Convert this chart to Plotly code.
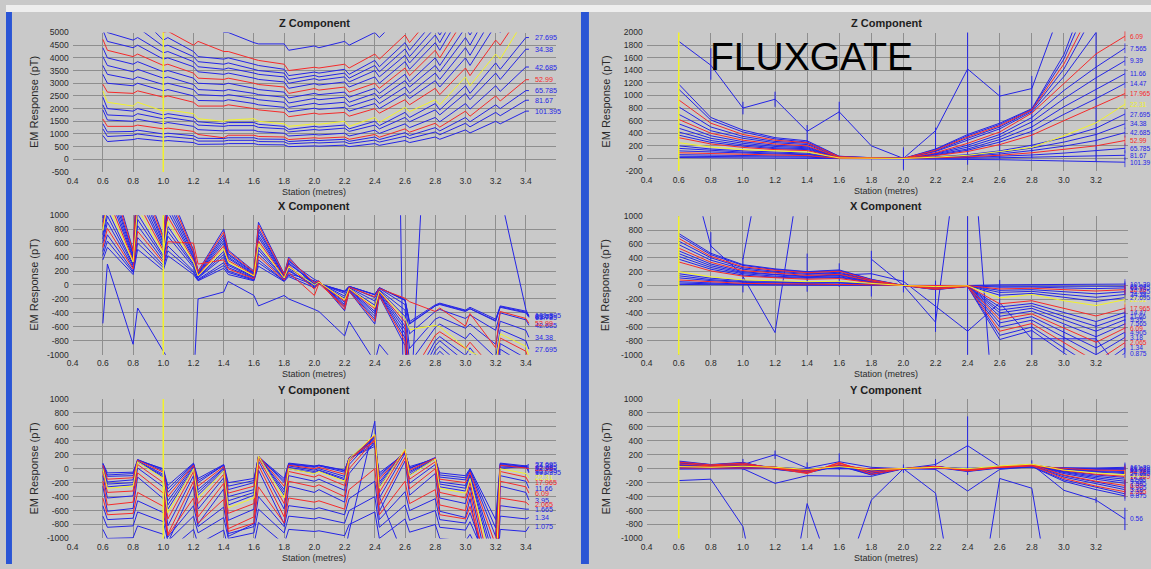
import plotly.graph_objects as go

# ---------------- stations (metres) ----------------
STATIONS_LEFT = [0.60, 0.63, 0.80, 0.83, 1.00, 1.03, 1.20, 1.23, 1.40, 1.43,
                 1.60, 1.63, 1.80, 1.83, 2.00, 2.03, 2.20, 2.23, 2.40, 2.43,
                 2.60, 2.63, 2.80, 2.83, 3.00, 3.03, 3.20, 3.23, 3.40, 3.42]
STATIONS_RIGHT = [0.6, 0.8, 1.0, 1.2, 1.4, 1.6, 1.8, 2.0, 2.2, 2.4, 2.6, 2.8, 3.0, 3.2, 3.38]

# ---------------- coil sensor: Z component ----------------
Z_LEFT_CHANNELS = ["1.665", "2.065", "2.56", "3.18", "3.95", "4.905", "6.09", "7.565", "9.39", "11.66",
                   "14.47", "17.965", "22.31", "27.695", "34.38", "42.685", "52.99", "65.785", "81.67", "101.395"]
Z_LEFT = [
    [9000, 8400, 8000, 8200, 7000, 7100, 6200, 5900, 5000, 5000, 4600, 4550, 4550, 4300, 4470, 4400, 4650, 4500, 5000, 4800, 5800, 5500, 6800, 6500, 8500, 8200, 11000, 10700, 14000, 14000],
    [7800, 7300, 6200, 6300, 5000, 5050, 4500, 4650, 4250, 4250, 3950, 3900, 3750, 3500, 3630, 3600, 3750, 3600, 4150, 3950, 4900, 4600, 5800, 5500, 7200, 6900, 8800, 8500, 10500, 10500],
    [6900, 6300, 5600, 5700, 4700, 4800, 4250, 4050, 3950, 4000, 3750, 3700, 3550, 3300, 3440, 3400, 3550, 3350, 3900, 3650, 4600, 4300, 5500, 5200, 6800, 6500, 8300, 8000, 10000, 10000],
    [6200, 5600, 5100, 5200, 4450, 4500, 4050, 3850, 3750, 3800, 3550, 3500, 3400, 3150, 3310, 3250, 3400, 3200, 3700, 3450, 4350, 4050, 5200, 4900, 6500, 6200, 7900, 7600, 9500, 9500],
    [5500, 5000, 4700, 4800, 4200, 4250, 3850, 3650, 3550, 3600, 3400, 3350, 3250, 3000, 3180, 3120, 3250, 3050, 3500, 3250, 4100, 3800, 4900, 4600, 6400, 6100, 7700, 7400, 9200, 9200],
    [5100, 4650, 4400, 4500, 3950, 4000, 3650, 3450, 3350, 3400, 3200, 3150, 3050, 2800, 2985, 2930, 3050, 2850, 3250, 3000, 3850, 3550, 4600, 4300, 6000, 5700, 7300, 7000, 8800, 8800],
    [4730, 4300, 4050, 4150, 3700, 3750, 3400, 3200, 3150, 3200, 3000, 2950, 2850, 2600, 2790, 2730, 2850, 2650, 3000, 2800, 3600, 3300, 4300, 4000, 5600, 5300, 6900, 6600, 8400, 8400],
    [4400, 4000, 3750, 3850, 3450, 3500, 3200, 3000, 2950, 3000, 2800, 2750, 2650, 2420, 2600, 2550, 2650, 2450, 2800, 2600, 3350, 3050, 4000, 3700, 5200, 4900, 6500, 6200, 8000, 8000],
    [4050, 3700, 3450, 3550, 3200, 3250, 2950, 2750, 2700, 2750, 2600, 2550, 2450, 2220, 2400, 2350, 2450, 2250, 2600, 2400, 3100, 2850, 3700, 3450, 4800, 4500, 6300, 6000, 7600, 7600],
    [3700, 3350, 3150, 3250, 2950, 3000, 2750, 2550, 2500, 2550, 2400, 2350, 2250, 2050, 2210, 2160, 2250, 2080, 2400, 2200, 2850, 2600, 3400, 3150, 4400, 4100, 5800, 5500, 7200, 7200],
    [3350, 3000, 2900, 3000, 2700, 2750, 2500, 2320, 2300, 2350, 2200, 2150, 2050, 1870, 2015, 1970, 2050, 1900, 2200, 2000, 2600, 2400, 3100, 2850, 4000, 3700, 5300, 5000, 6600, 6700],
    [2960, 2650, 2600, 2700, 2450, 2500, 2250, 2100, 2100, 2150, 2000, 1950, 1850, 1680, 1820, 1780, 1850, 1700, 2000, 1820, 2350, 2150, 2800, 2550, 3600, 3300, 4700, 4500, 6000, 6100],
    [2700, 2250, 2100, 2250, 1900, 1950, 1800, 1600, 1500, 1550, 1600, 1500, 1400, 1300, 1400, 1380, 1500, 1300, 1650, 1450, 2050, 1880, 2350, 2150, 3250, 2900, 4150, 3950, 5600, 5700],
    [2450, 2000, 1900, 2000, 1750, 1800, 1650, 1480, 1400, 1450, 1450, 1380, 1300, 1180, 1300, 1270, 1350, 1200, 1500, 1330, 1850, 1650, 2200, 1950, 2900, 2600, 3800, 3550, 4800, 4800],
    [2150, 1750, 1700, 1800, 1600, 1650, 1500, 1350, 1300, 1330, 1330, 1260, 1200, 1080, 1175, 1150, 1230, 1100, 1350, 1200, 1650, 1480, 1950, 1750, 2600, 2350, 3400, 3150, 4340, 4340],
    [1950, 1550, 1500, 1580, 1400, 1450, 1300, 1170, 1120, 1150, 1150, 1090, 1030, 920, 980, 960, 1030, 920, 1150, 1020, 1400, 1250, 1650, 1480, 2200, 1980, 2900, 2680, 3640, 3640],
    [1590, 1300, 1300, 1350, 1200, 1230, 1100, 980, 850, 950, 950, 900, 880, 780, 850, 830, 880, 790, 980, 870, 1200, 1070, 1420, 1270, 1900, 1700, 2500, 2300, 3140, 3140],
    [1400, 1080, 1100, 1150, 1000, 1030, 930, 830, 820, 850, 850, 800, 790, 700, 760, 740, 790, 710, 880, 780, 1050, 940, 1250, 1120, 1650, 1480, 2150, 2000, 2710, 2710],
    [1200, 900, 950, 1000, 870, 900, 810, 720, 720, 750, 750, 700, 690, 610, 660, 645, 690, 620, 760, 680, 910, 820, 1080, 970, 1420, 1280, 1850, 1720, 2330, 2330],
    [940, 700, 780, 820, 720, 740, 660, 590, 600, 620, 620, 580, 570, 500, 530, 520, 560, 500, 620, 550, 740, 660, 880, 790, 1160, 1040, 1500, 1400, 1900, 1900],
]

# ---------------- coil sensor: X component ----------------
X_LEFT_CHANNELS = ["4.905", "6.09", "7.565", "9.39", "11.66", "14.47", "17.965", "22.31",
                   "27.695", "34.38", "42.685", "52.99", "65.785", "81.67", "101.395"]
X_LEFT = [
    [1200, 1800, 500, 1700, 700, 1400, 500, 200, 800, 500, 200, 900, 160, 400, 0, 60, -370, -90, -560, -160, -870, -2170, -1180, -1090, -1490, -1330, -2020, -1240, -1550, -1800],
    [1140, 1710, 480, 1620, 670, 1330, 480, 190, 760, 480, 190, 860, 150, 380, 30, 60, -350, -90, -520, -150, -810, -2030, -1100, -1020, -1390, -1250, -1890, -1160, -1450, -1680],
    [1080, 1620, 450, 1530, 630, 1260, 450, 180, 720, 450, 180, 810, 140, 360, -20, 50, -320, -80, -490, -140, -760, -1890, -1030, -950, -1300, -1160, -1760, -1080, -1350, -1570],
    [1020, 1530, 430, 1450, 600, 1190, 430, 170, 680, 430, 170, 770, 140, 340, 80, 50, -300, -80, -450, -130, -700, -1750, -950, -880, -1200, -1080, -1630, -1000, -1250, -1450],
    [960, 1440, 400, 1360, 560, 1120, 400, 160, 640, 400, 160, 720, 130, 320, 10, 50, -280, -70, -410, -120, -640, -1610, -870, -800, -1100, -990, -1500, -920, -1150, -1330],
    [900, 1350, 380, 1280, 530, 1050, 380, 150, 600, 380, 150, 680, 120, 300, 40, 40, -250, -60, -380, -100, -590, -1470, -800, -740, -1010, -900, -1370, -840, -1050, -1220],
    [840, 1260, 350, 1190, 490, 980, 350, 140, 560, 350, 140, 630, 110, 280, -60, 40, -230, -60, -340, -100, -530, -1330, -720, -670, -910, -820, -1240, -760, -950, -1100],
    [780, 1170, 330, 1100, 460, 910, 330, 130, 520, 330, 130, 590, 100, 260, 0, 40, -210, -50, -320, -90, -480, -640, -580, -600, -900, -950, -1140, -700, -880, -1020],
    [720, 1080, 300, 1020, 420, 840, 300, 120, 480, 300, 120, 540, 100, 240, 20, 30, -190, -50, -290, -80, -450, -1120, -610, -560, -770, -690, -1040, -640, -800, -920],
    [660, 990, 280, 940, 390, 770, 280, 110, 440, 280, 110, 500, 90, 220, -30, 30, -160, -40, -230, -70, -360, -910, -490, -460, -620, -560, -850, -520, -650, -750],
    [600, 900, 250, 850, 350, 700, 250, 100, 400, 250, 100, 450, 80, 200, 0, 20, -120, -30, -180, -50, -280, -700, -380, -350, -480, -430, -650, -400, -500, -580],
    [540, 810, 230, 770, 320, 620, 600, 300, 360, 230, 90, 410, 70, 180, -150, 20, -310, -30, -170, -50, -190, -240, -380, -330, -590, -410, -900, -380, -480, -550],
    [480, 720, 200, 680, 280, 560, 200, 80, 320, 200, 80, 360, 60, 160, 60, 20, -100, -20, -140, -40, -220, -560, -300, -280, -380, -340, -520, -320, -400, -465],
    [420, 630, 180, 600, 250, 490, 180, 70, 280, 180, 70, 320, 60, 140, 0, 20, -90, -20, -140, -40, -220, -550, -300, -270, -370, -340, -510, -310, -390, -450],
    [360, 540, 150, 510, 210, 420, 150, 60, 240, 150, 60, 270, 50, 120, -40, 15, -90, -20, -135, -40, -210, -525, -285, -260, -360, -320, -490, -300, -375, -435],
]
X_LEFT_NOISE_CHANNELS = ["0.56", "0.875"]
X_LEFT_NOISE = [
    [-550, 300, -850, -330, -950, -1050, -1400, -200, -100, 50, -150, -300, -150, -200, -350, -380, -730, -520, -1100, -850, -1300, -1500, -1200, -1200, -1300, -1300, -1300, -1300, -1300, -1300],
    [None, None, None, None, None, None, None, None, None, None, None, None, None, None, None, None, None, None, None,
     20000, -3000, -2000, 5000, 6000, 8000, 8000, 4000, 1300, -350, -450],
]

# ---------------- coil sensor: Y component ----------------
Y_LEFT_CHANNELS = ["101.395", "81.67", "65.785", "52.99", "42.685", "34.38", "27.695", "22.31",
                   "17.965", "11.66", "6.09", "3.95", "2.065", "1.665", "1.34", "1.075"]
Y_LEFT = [
    [80, -60, -50, 120, 0, -240, 80, -140, 60, -200, -140, 170, -140, 80, 40, 50, -20, 150, 320, -60, 220, 30, 140, -60, -100, 0, -730, 80, 40, -60],
    [70, -90, -70, 130, -10, -290, 70, -170, 50, -250, -170, 170, -170, 70, 30, 50, -30, 150, 350, -90, 230, 10, 150, -90, -130, -10, -850, 70, 30, -40],
    [60, -110, -100, 130, -30, -340, 60, -200, 50, -300, -200, 180, -200, 60, 20, 40, -50, 160, 380, -120, 250, 0, 160, -120, -160, -30, -970, 60, 20, -20],
    [50, -150, -130, 120, -50, -400, 50, -250, 30, -350, -250, 180, -250, 50, 0, 20, -80, 150, 400, -150, 250, -20, 150, -150, -200, -50, -1100, 50, 10, 0],
    [40, -190, -160, 110, -80, -460, 40, -300, 10, -400, -300, 180, -300, 40, -20, 0, -110, 150, 420, -190, 260, -40, 150, -190, -240, -80, -1230, 40, 20, 20],
    [20, -220, -200, 100, -100, -520, 20, -340, 0, -460, -340, 180, -340, 20, -40, -20, -140, 140, 440, -220, 260, -60, 140, -220, -280, -100, -1360, 20, 30, 40],
    [0, -260, -230, 100, -120, -580, 0, -380, -20, -520, -380, 170, -380, 0, -60, -30, -160, 140, 460, -260, 260, -90, 140, -260, -320, -120, -1490, 0, 40, 60],
    [0, -280, -250, 100, -140, -630, 0, -420, -30, -560, -420, 180, -420, 0, -70, -40, -180, 140, 490, -280, 280, -100, 140, -280, -350, -140, -1610, 0, -70, -130],
    [-40, -340, -320, 60, -200, -720, -40, -500, -80, -640, -500, 150, -500, -40, -120, -90, -240, 100, 480, -340, 260, -150, 100, -340, -420, -200, -1770, -40, -120, -200],
    [-100, -420, -390, 10, -260, -820, -100, -580, -130, -740, -580, 110, -580, -100, -180, -150, -310, 60, 460, -420, 220, -210, 60, -420, -500, -260, -1940, -100, -180, -280],
    [-180, -520, -480, -60, -350, -940, -180, -690, -210, -860, -690, 50, -690, -180, -260, -230, -400, 0, 420, -520, 160, -290, 0, -520, -600, -340, -2130, -180, -260, -350],
    [-250, -610, -570, -120, -430, -1060, -250, -790, -290, -970, -790, -20, -790, -250, -340, -300, -480, -70, 380, -610, 110, -380, -70, -610, -700, -430, -2320, -250, -340, -450],
    [-420, -660, -640, -340, -540, -960, -420, -780, -440, -900, -780, -260, -780, -420, -480, -460, -580, -300, 0, -660, -180, -500, -300, -660, -720, -540, -1800, -420, -480, -520],
    [-530, -730, -710, -460, -630, -980, -530, -830, -550, -930, -830, -400, -830, -530, -580, -560, -660, -430, -180, -730, -330, -600, -430, -730, -780, -630, -1680, -530, -580, -580],
    [-680, -840, -820, -620, -760, -1040, -680, -920, -700, -1000, -920, -580, -920, -680, -720, -700, -780, -600, -400, -840, -520, -740, -600, -840, -880, -760, -1600, -680, -720, -700],
    [-870, -1000, -990, -820, -940, -1180, -870, -1080, -880, -1150, -1080, -770, -1080, -870, -900, -890, -960, -800, -620, -1000, -720, -910, -800, -1000, -1040, -940, -1670, -870, -900, -830],
]
Y_LEFT_NOISE_CHANNELS = ["0.56"]
Y_LEFT_NOISE = [
    [None, None, None, None, None, None, None, None, None, None, None, None, None, None, None, None,
     -1200, -900, 680, -400, -1300, None, None, None, None, None, None, None, None, None],
]

# ---------------- fluxgate sensor ----------------
RIGHT_CHANNELS = ["0.875", "1.34", "2.065", "3.18", "4.905", "6.09", "7.565", "9.39", "11.66", "14.47",
                  "17.965", "22.31", "27.695", "34.38", "42.685", "52.99", "65.785", "81.67", "101.39"]
Z_RIGHT = [
    [1180, 650, 450, 330, 280, 35, 12, 0, 150, 380, 560, 790, 1650, 3000, 6000],
    [1100, 610, 420, 310, 260, 33, 11, 0, 140, 360, 540, 780, 1580, 2750, 5000],
    [930, 560, 380, 290, 250, 28, 9, 0, 130, 340, 520, 770, 1500, 2500, 4000],
    [820, 500, 350, 270, 240, 25, 8, 0, 120, 320, 500, 760, 1420, 2300, 3200],
    [700, 440, 320, 250, 220, 21, 7, 0, 110, 290, 470, 740, 1300, 2000, 2500],
    [620, 400, 290, 230, 200, 19, 6, 0, 90, 240, 420, 720, 1190, 1660, 1940],
    [550, 360, 265, 210, 185, 17, 6, 0, 80, 210, 380, 650, 1080, 1450, 1750],
    [480, 320, 240, 190, 170, 15, 5, 0, 70, 180, 340, 580, 950, 1280, 1550],
    [420, 285, 215, 170, 155, 13, 4, 0, 60, 150, 300, 500, 820, 1100, 1345],
    [370, 255, 195, 155, 140, 11, 4, 0, 50, 130, 260, 430, 700, 950, 1190],
    [330, 230, 175, 140, 125, 10, 3, 0, 45, 110, 220, 370, 600, 820, 1030],
    [250, 180, 140, 115, 100, 8, 3, 0, 20, 50, 110, 175, 360, 565, 860],
    [200, 150, 120, 100, 85, 6, 2, 0, 25, 60, 120, 210, 330, 480, 705],
    [160, 125, 100, 85, 70, 5, 2, 0, 20, 45, 95, 165, 260, 380, 550],
    [120, 100, 80, 70, 60, 4, 1, 0, 15, 35, 70, 125, 195, 285, 410],
    [90, 75, 65, 55, 45, 3, 1, 0, 10, 25, 50, 90, 140, 200, 285],
    [60, 50, 45, 40, 35, 2, 1, 0, 5, 15, 30, 55, 85, 120, 160],
    [35, 30, 28, 25, 20, 1, 0, 0, 2, 5, 10, 20, 30, 40, 50],
    [15, 12, 10, 8, 5, 0, 0, 0, -5, -10, -20, -30, -40, -50, -60],
]
Z_RIGHT_NOISE = [1860, 1480, 800, 940, 430, 740, 200, 0, 440, 1420, 990, 1110, 2500, 3000, None]
Z_RIGHT_NOISE_PLUS = [0, 270, 100, 120, 100, 160, 0, 175, 50, 1000, 170, 200, 0, 0, 0]
Z_RIGHT_NOISE_MINUS = [0, 230, 100, 120, 180, 140, 0, 180, 450, 1520, 1000, 1110, 0, 3050, 0]

X_RIGHT = [
    [750, 465, 300, 240, 200, 225, 90, 0, -60, -15, -780, -650, -975, -1300, -975],
    [720, 445, 290, 230, 195, 215, 85, 0, -58, -14, -720, -600, -900, -1200, -900],
    [680, 420, 270, 220, 185, 205, 80, 0, -55, -14, -660, -550, -825, -1100, -825],
    [640, 400, 255, 205, 175, 190, 77, 0, -51, -13, -600, -500, -750, -1000, -750],
    [590, 365, 235, 190, 160, 175, 70, 0, -47, -12, -540, -450, -675, -900, -675],
    [540, 335, 215, 175, 145, 160, 65, 0, -43, -11, -490, -410, -615, -820, -615],
    [500, 310, 200, 160, 135, 150, 60, 0, -40, -10, -445, -370, -555, -740, -555],
    [460, 285, 185, 150, 125, 140, 55, 0, -37, -9, -395, -330, -495, -660, -495],
    [420, 260, 170, 135, 115, 125, 50, 0, -34, -8, -355, -295, -445, -590, -445],
    [380, 235, 150, 120, 105, 115, 45, 0, -30, -8, -310, -260, -390, -520, -390],
    [340, 210, 135, 110, 90, 100, 40, 0, -27, -7, -265, -220, -330, -440, -330],
    [200, 125, 80, 65, 55, 60, 25, 0, -16, -4, -180, -130, -220, -290, -205],
    [170, 105, 70, 55, 45, 50, 20, 0, -14, -3, -140, -115, -170, -230, -175],
    [140, 85, 55, 45, 40, 40, 17, 0, -11, -3, -100, -85, -130, -170, -130],
    [110, 70, 45, 35, 30, 35, 13, 0, -9, -2, -70, -60, -90, -120, -90],
    [80, 50, 30, 25, 20, 25, 10, 0, -6, -2, -50, -40, -60, -80, -60],
    [55, 35, 20, 18, 15, 17, 7, 0, -4, -1, -25, -22, -35, -45, -35],
    [35, 22, 14, 11, 10, 11, 4, 0, -3, -1, -10, -8, -12, -15, -12],
    [15, 10, 6, 5, 4, 5, 2, 0, -1, 0, 10, 10, 15, 20, 20],
]
X_RIGHT_NOISE = [
    [2300, 570, 150, None, 185, 150, 170, 60, -300, -660, -250, -770, -770, -770, -1300],
    [None, None, 380, 2800, None, None, None, None, None, None, None, None, None, None, None],
    [None, None, 130, -680, 2300, None, None, None, None, None, None, None, None, None, None],
    [None, None, None, None, None, None, 380, 0, -530, 3000, -3000, None, None, None, None],
]
X_RIGHT_NOISE_ERR = [0, 200, 250, 0, 275, 170, 330, 160, 370, 1700, 330, 260, 200, 240, 0]

Y_RIGHT = [
    [110, 60, 90, -10, -60, 40, -90, 0, 20, -40, 10, 30, -180, -300, -390],
    [100, 55, 85, -5, -55, 45, -85, 0, 25, -35, 15, 35, -160, -270, -360],
    [95, 55, 80, 0, -70, 90, -80, 0, 30, -30, 20, 45, -140, -250, -330],
    [90, 50, 75, 5, -45, 55, -70, 0, 30, -25, 20, 40, -120, -220, -300],
    [80, 45, 70, 10, -40, 50, -60, 0, 30, -20, 20, 45, -100, -190, -270],
    [70, 40, 60, 15, -60, 80, -50, 0, 35, -30, 25, 55, -90, -180, -240],
    [60, 35, 55, 15, -30, 45, -40, 0, 30, -15, 20, 50, -70, -150, -210],
    [50, 30, 50, 20, -25, 40, -35, 0, 30, -10, 25, 50, -55, -130, -180],
    [45, 25, 45, 20, -20, 35, -30, 0, 30, -10, 25, 50, -45, -110, -150],
    [40, 25, 40, 20, -15, 30, -25, 0, 25, -5, 25, 50, -35, -90, -125],
    [35, 30, 40, 25, -40, 60, -20, 0, 25, -20, 30, 60, -25, -80, -110],
    [30, 20, 35, 20, -10, 30, -15, 0, 20, 0, 40, 65, -20, -60, -85],
    [25, 15, 30, 20, -5, 25, -10, 0, 20, 0, 25, 55, -10, -50, -70],
    [20, 15, 25, 15, -5, 20, -10, 0, 15, 0, 20, 50, -5, -40, -55],
    [15, 10, 20, 15, 0, 15, -5, 0, 15, 0, 20, 45, 0, -30, -40],
    [10, 10, 15, 10, -20, 40, -5, 0, 10, -10, 20, 40, 5, -20, -25],
    [5, 5, 10, 10, 0, 10, 0, 0, 10, 0, 15, 35, 5, -10, -10],
    [0, 5, 5, 5, 0, 5, 0, 0, 5, 0, 10, 30, 5, 0, 5],
    [-5, 0, 0, 0, 0, 0, 0, 0, 5, 0, 5, 20, 10, 10, 20],
]
Y_RIGHT_NOISE_CHANNELS = ["0.56", "0.7", "0.56"]
Y_RIGHT_NOISE = [
    [80, 60, 60, 200, 10, 100, 20, 0, 60, 330, 30, 60, -310, -450, -720],
    [-170, -150, -830, -3000, -500, -1800, -450, 0, -350, -3000, -140, -280, -3000, None, None],
    [40, 30, 0, -210, -100, -110, -110, 0, -10, -320, -10, 30, None, None, None],
]
Y_RIGHT_NOISE_ERR = [0, 0, 80, 60, 80, 120, 0, 60, 80, 420, 0, 60, 0, 40, 160]

CURSOR_LEFT = 1.0
CURSOR_RIGHT = 0.6
RED_CHANNELS = {"0.7", "2.065", "6.09", "17.965", "52.99"}
YELLOW_CHANNELS = {"22.31"}

# ---------------- styling ----------------
W, H = 1151, 569
FONT = "Liberation Sans, Arial, sans-serif"
BG = "#c9c9c9"
GRID = "#8e8e8e"
BLUE = "#2424e6"
RED = "#f52a2a"
YELLOW = "#f2f22a"
TEXT = "#2a2a2a"


def colour(ch):
    if ch in YELLOW_CHANNELS:
        return YELLOW
    if ch in RED_CHANNELS:
        return RED
    return BLUE


def fx(p):
    return p / W


def fy(p):
    return 1 - p / H


LEFT_XPX = (67, 553)
RIGHT_XPX = (644, 1128)

panels = [
    dict(n=1, side="L", title="Z Component", x=STATIONS_LEFT, rows=Z_LEFT, ch=Z_LEFT_CHANNELS,
         yr=(-500, 5000), dy=500, ypx=(28, 170), ty=18),
    dict(n=2, side="R", title="Z Component", x=STATIONS_RIGHT, rows=Z_RIGHT, ch=RIGHT_CHANNELS,
         yr=(-200, 2000), dy=200, ypx=(28, 169), ty=18),
    dict(n=3, side="L", title="X Component", x=STATIONS_LEFT, rows=X_LEFT, ch=X_LEFT_CHANNELS,
         yr=(-1000, 1000), dy=200, ypx=(214, 356), ty=205),
    dict(n=4, side="R", title="X Component", x=STATIONS_RIGHT, rows=X_RIGHT, ch=RIGHT_CHANNELS,
         yr=(-1000, 1000), dy=200, ypx=(215, 356), ty=205),
    dict(n=5, side="L", title="Y Component", x=STATIONS_LEFT, rows=Y_LEFT, ch=Y_LEFT_CHANNELS,
         yr=(-1000, 1000), dy=200, ypx=(401, 543), ty=392),
    dict(n=6, side="R", title="Y Component", x=STATIONS_RIGHT, rows=Y_RIGHT, ch=RIGHT_CHANNELS,
         yr=(-1000, 1000), dy=200, ypx=(401, 543), ty=392),
]

noise = {
    1: [],
    2: [("0.56", Z_RIGHT_NOISE, Z_RIGHT_NOISE_PLUS, Z_RIGHT_NOISE_MINUS)],
    3: [(c, r, None, None) for c, r in zip(X_LEFT_NOISE_CHANNELS, X_LEFT_NOISE)],
    4: [("0.56", X_RIGHT_NOISE[0], X_RIGHT_NOISE_ERR, X_RIGHT_NOISE_ERR)]
       + [("0.7", r, None, None) for r in X_RIGHT_NOISE[1:]],
    5: [(c, r, None, None) for c, r in zip(Y_LEFT_NOISE_CHANNELS, Y_LEFT_NOISE)],
    6: [(Y_RIGHT_NOISE_CHANNELS[0], Y_RIGHT_NOISE[0], Y_RIGHT_NOISE_ERR, Y_RIGHT_NOISE_ERR)]
       + [(c, r, None, None) for c, r in zip(Y_RIGHT_NOISE_CHANNELS[1:], Y_RIGHT_NOISE[1:])],
}

fig = go.Figure()
layout = dict(
    width=W, height=H, margin=dict(l=0, r=0, t=0, b=0),
    paper_bgcolor=BG, plot_bgcolor=BG, showlegend=False,
    font=dict(family=FONT, color=TEXT),
)
annotations = []
shapes = []

x_ticks = [0.4, 0.6, 0.8, 1.0, 1.2, 1.4, 1.6, 1.8, 2.0, 2.2, 2.4, 2.6, 2.8, 3.0, 3.2, 3.4]


def paper_text(xp, yp, text, size, color=TEXT, angle=0):
    return dict(x=fx(xp), y=fy(yp), xref="paper", yref="paper", text=text, showarrow=False,
                xanchor="center", yanchor="middle", textangle=angle,
                font=dict(size=size, color=color, family=FONT))


for p in panels:
    n = p["n"]
    xa = "x" if n == 1 else f"x{n}"
    ya = "y" if n == 1 else f"y{n}"
    xkey = "xaxis" if n == 1 else f"xaxis{n}"
    ykey = "yaxis" if n == 1 else f"yaxis{n}"
    left = p["side"] == "L"
    xpx = LEFT_XPX if left else RIGHT_XPX
    xr = (0.4, 3.6) if left else (0.4, 3.4)
    xt = x_ticks if left else x_ticks[:-1]
    y0, y1 = p["yr"]
    yt = list(range(y0, y1 + 1, p["dy"]))

    layout[xkey] = dict(
        domain=[fx(xpx[0]), fx(xpx[1])], range=list(xr), anchor=ya,
        tickmode="array", tickvals=xt, ticktext=[f"{v:.1f}" for v in xt],
        showgrid=True, gridcolor=GRID, gridwidth=1, zeroline=False, showline=False,
        ticks="", tickfont=dict(size=8.5, color=TEXT, family=FONT), ticklabelstandoff=2,
    )
    layout[ykey] = dict(
        domain=[fy(p["ypx"][1]), fy(p["ypx"][0])], range=[y0, y1], anchor=xa,
        tickmode="array", tickvals=yt, ticktext=[str(v) for v in yt],
        showgrid=True, gridcolor=GRID, gridwidth=1, zeroline=False, showline=False,
        ticks="", tickfont=dict(size=8.5, color=TEXT, family=FONT), ticklabelstandoff=3,
    )

    xs = p["x"]
    # noisy early-time channels underneath
    for ch, row, plus, minus in noise[n]:
        err = None
        if plus is not None:
            err = dict(type="data", array=plus, arrayminus=minus, symmetric=False,
                       width=0, thickness=1, color=BLUE)
        fig.add_trace(go.Scatter(
            x=xs, y=row, xaxis=xa, yaxis=ya, mode="lines",
            line=dict(color=BLUE, width=1), error_y=err, hoverinfo="skip",
        ))

    ordered = sorted(zip(p["ch"], p["rows"]), key=lambda t: (colour(t[0]) != BLUE, colour(t[0]) == YELLOW))
    for ch, row in ordered:
        c = colour(ch)
        if left:
            fig.add_trace(go.Scatter(
                x=xs, y=row, xaxis=xa, yaxis=ya, mode="lines",
                line=dict(color=c, width=1), hoverinfo="skip",
            ))
        else:
            sizes = [0] * (len(row) - 1) + [7]
            fig.add_trace(go.Scatter(
                x=xs, y=row, xaxis=xa, yaxis=ya, mode="lines+markers",
                line=dict(color=c, width=1),
                marker=dict(symbol="line-ns", size=sizes, line=dict(color=c, width=1)),
                hoverinfo="skip", cliponaxis=False,
            ))

    # channel labels at the end of each visible decay curve
    labelled = list(zip(p["ch"], p["rows"])) + [(c, r) for c, r, _, _ in noise[n]]
    for ch, row in labelled:
        last = row[-1]
        if last is None or not (y0 <= last <= y1):
            continue
        annotations.append(dict(
            x=xs[-1], y=last, xref=xa, yref=ya, text=ch, showarrow=False,
            xanchor="left", yanchor="middle", xshift=4 if left else 3,
            font=dict(size=7.2 if left else 6.6, color=colour(ch), family=FONT),
        ))

    # station cursor
    cur = CURSOR_LEFT if left else CURSOR_RIGHT
    shapes.append(dict(type="line", xref=xa, yref=f"{ya} domain", x0=cur, x1=cur, y0=0, y1=1,
                       line=dict(color=YELLOW, width=1.5)))

    # panel title, axis titles
    cx = 310 if left else 885
    top, bottom = p["ypx"]
    annotations.append(paper_text(cx, p["ty"], f"<b>{p['title']}</b>", 11, "#1e1e1e"))
    annotations.append(paper_text(cx, bottom + 20, "Station (metres)", 9))
    annotations.append(paper_text(28 if left else 603, (top + bottom) / 2, "EM Response (pT)", 11, angle=-90))

annotations.append(paper_text(810, 52, "FLUXGATE", 39, "#000000"))

# window chrome: top strip and the two blue frame bars
shapes += [
    dict(type="rect", xref="paper", yref="paper", x0=0, x1=1, y0=fy(7), y1=1,
         fillcolor="#eeeeee", line=dict(width=0), layer="below"),
    dict(type="rect", xref="paper", yref="paper", x0=0, x1=fx(6), y0=0, y1=fy(7),
         fillcolor="#2a55d5", line=dict(width=0), layer="above"),
    dict(type="rect", xref="paper", yref="paper", x0=fx(578), x1=fx(586), y0=0, y1=fy(7),
         fillcolor="#2a55d5", line=dict(width=0), layer="above"),
]

layout["annotations"] = annotations
layout["shapes"] = shapes
fig.update_layout(**layout)
fig.write_html("out.html")
